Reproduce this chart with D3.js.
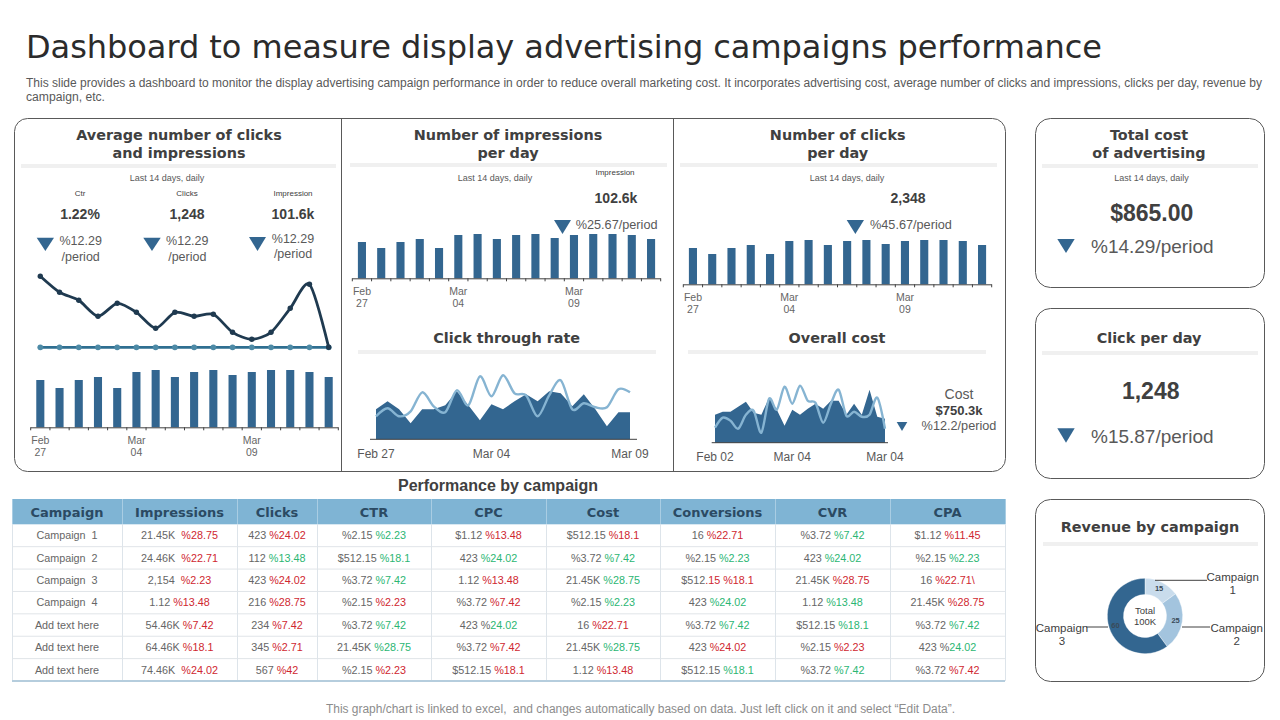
<!DOCTYPE html>
<html><head><meta charset="utf-8">
<script src="https://cdn.jsdelivr.net/npm/d3@7"></script>
<style>html,body{margin:0;padding:0;background:#fff;overflow:hidden}svg{display:block}</style>
</head><body><svg id="c" width="1280" height="720"></svg>
<script>
// ---------- data ----------
const days = ["Feb 27","Feb 28","Mar 01","Mar 02","Mar 03","Mar 04","Mar 05","Mar 06","Mar 07","Mar 08","Mar 09a","Mar 09","Mar 10","Mar 11","Mar 12","Mar 13"];
const tickDays = ["Feb 27","Mar 04","Mar 09"];
const avgLine = [71,55,47,31,44,35,19,35,31,33,15,8,15,39,63,0];
const avgBase = [0,0,0,0,0,0,0,0,0,0,0,0,0,0,0,0];
const avgBars = [47.3,39.3,47.3,50.3,39.3,55.3,57.3,50.3,55.3,57.3,52.3,55.3,57.3,57.3,55.3,50.3];
const impressionBars = [36.3,30.3,36.3,39.3,30.3,43.3,44.3,39.3,43.3,44.3,40.3,43.3,44.3,44.3,43.3,39.3];
const clickBars = [36.3,30.3,36.3,39.3,30.3,43.3,44.3,39.3,43.3,44.3,40.3,43.3,44.3,44.3,43.3,39.3];
const ctrArea = [30,38,30,16,30,30,34,48,34,19,35,30,38,45,38,48,46,33,45,30,13,27,27];
const ctrLine = [23,31,23,28,47,33,27,49,34,63,43,64,46,44,23,44,59,30,36,32,32,50,47];
const ctrTicks = [[0,"Feb 27"],[10,"Mar 04"],[22,"Mar 09"]];
const costArea = [28,31,31,36,41,30,28,45,33,17,33,28,34,39,34,42,42,28,39,28,53,26,24];
const costLine = [15,25,22,14,28,32,10,44,33,56,39,57,42,40,20,39,53,27,31,26,28,45,14];
const costTicks = [[0,"Feb 02"],[10,"Mar 04"],[22,"Mar 04"]];
const revenueNames = ["Campaign 1","Campaign 2","Campaign 3"];
const revenueValues = [15,25,60];
const tableHeaders = ["Campaign","Impressions","Clicks","CTR","CPC","Cost","Conversions","CVR","CPA"];
const campaignNames = ["Campaign  1","Campaign  2","Campaign  3","Campaign  4","Add text here","Add text here","Add text here"];
const impressionsCol = [["21.45K ","%28.75","r"],["24.46K ","%22.71","r"],["2,154 ","%2.23","r"],["1.12","%13.48","r"],["54.46K","%7.42","r"],["64.46K","%18.1","r"],["74.46K ","%24.02","r"]];
const clicksCol = [["423","%24.02","r"],["112","%13.48","g"],["423","%24.02","r"],["216","%28.75","r"],["234","%7.42","r"],["345","%2.71","r"],["567","%42","r"]];
const ctrCol = [["%2.15","%2.23","g"],["$512.15","%18.1","g"],["%3.72","%7.42","g"],["%2.15","%2.23","r"],["%3.72","%7.42","g"],["21.45K","%28.75","g"],["%2.15","%2.23","r"]];
const cpcCol = [["$1.12","%13.48","r"],["423","%24.02","g"],["1.12","%13.48","r"],["%3.72","%7.42","r"],["423 %","24.02","g"],["%3.72","%7.42","r"],["$512.15","%18.1","r"]];
const costCol = [["$512.15","%18.1","r"],["%3.72","%7.42","g"],["21.45K","%28.75","g"],["%2.15","%2.23","g"],["16","%22.71","r"],["21.45K","%28.75","g"],["1.12","%13.48","r"]];
const conversionsCol = [["16","%22.71","r"],["%2.15","%2.23","g"],["$512",".15 %18.1","r"],["423","%24.02","g"],["%3.72","%7.42","g"],["423","%24.02","r"],["$512.15","%18.1","g"]];
const cvrCol = [["%3.72","%7.42","g"],["423","%24.02","g"],["21.45K","%28.75","r"],["1.12","%13.48","g"],["$512.15","%18.1","g"],["%2.15","%2.23","r"],["%3.72","%7.42","g"]];
const cpaCol = [["$1.12","%11.45","r"],["%2.15","%2.23","g"],["16","%22.71\\","r"],["21.45K","%28.75","r"],["%3.72","%7.42","g"],["423 %","24.02","g"],["%3.72","%7.42","r"]];

// ---------- helpers ----------
const BLUE="#336690", LIGHT="#86b4d2", DARK="#1f3a50", TXT="#404040", GREY="#595959";
const ARIAL="'Liberation Sans',Arial,sans-serif", VERD="'DejaVu Sans',Verdana,sans-serif";
const svg=d3.select("#c");
svg.append("rect").attr("width",1280).attr("height",720).attr("fill","#fff");
function T(x,y,s,o={}){
  return svg.append("text").attr("x",x).attr("y",y).attr("dy","0.35em")
   .attr("text-anchor",o.a||"middle").attr("font-family",o.f||ARIAL)
   .attr("font-size",o.s||12).attr("font-weight",o.w||"normal").attr("fill",o.c||GREY)
   .attr("textLength",o.len||null).attr("lengthAdjust",o.adj||null).text(s);
}
const H=(x,y,s,size)=>T(x,y,s,{f:VERD,w:"bold",s:size||14.4,c:TXT});
const rule=(x0,x1,y)=>svg.append("rect").attr("x",x0).attr("y",y).attr("width",x1-x0).attr("height",4).attr("fill","#f0f0f0");
const tri=(x0,x1,y0,y1)=>svg.append("path").attr("d",d3.line()([[x0,y0],[x1,y0],[(x0+x1)/2,y1]])+"Z").attr("fill",BLUE);
const box=(x,y,w,h,r)=>svg.append("rect").attr("x",x).attr("y",y).attr("width",w).attr("height",h).attr("rx",r).attr("fill","none").attr("stroke","#595959").attr("stroke-width",1);

function barChart(values,x0,x1,base,l1,l2){
  const x=d3.scaleBand().domain(days).range([x0,x1]).paddingInner(0.58).paddingOuter(0.29);
  const y=d3.scaleLinear().domain([0,60]).range([base,base-60]);
  svg.append("g").selectAll("rect").data(values).join("rect")
    .attr("x",(d,i)=>x(days[i])).attr("width",x.bandwidth())
    .attr("y",d=>y(d)).attr("height",d=>y(0)-y(d)).attr("fill",BLUE);
  const ax=svg.append("g").attr("transform",`translate(0,${base})`)
    .call(d3.axisBottom(x).tickSize(3).tickFormat("").tickPadding(0));
  ax.select(".domain").attr("stroke","#404040").attr("d",`M${x0},0.5H${x1}`);
  const step=x.step();
  ax.selectAll(".tick line").attr("stroke","#404040").attr("transform",`translate(${-step/2},0)`);
  ax.append("line").attr("x1",x1).attr("x2",x1).attr("y1",0).attr("y2",3).attr("stroke","#404040");
  tickDays.forEach(t=>{
    const cx=x(t)+x.bandwidth()/2, p=t.split(" ");
    T(cx,l1,p[0],{s:10.5,c:"#666"}); T(cx,l2,p[1],{s:10.5,c:"#666"});
  });
  return x;
}
function areaChart(area,line,ticks,x0,x1,base,a0,a1,ly){
  const x=d3.scaleLinear().domain([0,area.length-1]).range([x0,x1]);
  const y=d3.scaleLinear().domain([0,70]).range([base,base-70]);
  svg.append("path").attr("fill",BLUE)
    .attr("d",d3.area().x((d,i)=>x(i)).y0(y(0)).y1(d=>y(d))(area));
  svg.append("path").attr("fill","none").attr("stroke",LIGHT).attr("stroke-width",2.4)
    .attr("d",d3.line().x((d,i)=>x(i)).y(d=>y(d)).curve(d3.curveCardinal.tension(0.1))(line));
  svg.append("line").attr("x1",a0).attr("x2",a1).attr("y1",base).attr("y2",base).attr("stroke","#404040");
  ticks.forEach(t=>T(x(t[0]),ly,t[1],{s:12,c:"#595959"}));
}

// ---------- header ----------
T(26,46.5,"Dashboard to measure display advertising campaigns performance",{a:"start",f:VERD,s:32,c:"#2b2b2b",len:1076,adj:"spacing"});
T(26,83,"This slide provides a dashboard to monitor the display advertising campaign performance in order to reduce overall marketing cost. It incorporates advertising cost, average number of clicks and impressions, clicks per day, revenue by",{a:"start",s:12,len:1236,adj:"spacingAndGlyphs"});
T(26,97,"campaign, etc.",{a:"start",s:12,len:79,adj:"spacingAndGlyphs"});

// ---------- frames ----------
box(14.5,118.5,991,353,13);
svg.append("line").attr("x1",341.5).attr("x2",341.5).attr("y1",118.5).attr("y2",471.5).attr("stroke","#595959");
svg.append("line").attr("x1",673.5).attr("x2",673.5).attr("y1",118.5).attr("y2",471.5).attr("stroke","#595959");
box(1035.5,118.5,229,169,15);
box(1035.5,308.5,229,170,15);
box(1035.5,499.5,229,182,15);

// ---------- panel 1 ----------
H(179,135,"Average number of clicks"); H(179,152.5,"and impressions"); rule(21,336,164);
T(167,178,"Last 14 days, daily",{s:9,c:GREY});
[[80,"Ctr","1.22%"],[187,"Clicks","1,248"],[293,"Impression","101.6k"]].forEach(d=>{
  T(d[0],193,d[1],{s:8,c:"#404040"}); T(d[0],214,d[2],{s:14,w:"bold",c:TXT});
});
tri(36.7,54,237.7,251); T(80.7,241,"%12.29",{s:12.5}); T(80.7,257,"/period",{s:12.5});
tri(143.3,160.7,237.7,251); T(187.3,241,"%12.29",{s:12.5}); T(187.3,257,"/period",{s:12.5});
tri(249,266,237,251); T(293,238.3,"%12.29",{s:12.5}); T(293,254,"/period",{s:12.5});
{
  const x=barChart(avgBars,30.7,338.3,427.3,440,452);
  const y=d3.scaleLinear().domain([0,71]).range([347.3,276.3]);
  const cx=i=>x(days[i])+x.bandwidth()/2;
  const gen=d3.line().x((d,i)=>cx(i)).y(d=>y(d)).curve(d3.curveCardinal.tension(0.25));
  svg.append("path").attr("d",gen(avgBase)).attr("fill","none").attr("stroke","#2f6f91").attr("stroke-width",2.8);
  svg.append("g").selectAll("circle").data(avgBase).join("circle").attr("cx",(d,i)=>cx(i)).attr("cy",d=>y(d)).attr("r",2.9).attr("fill","#4d8aa6");
  svg.append("path").attr("d",gen(avgLine)).attr("fill","none").attr("stroke",DARK).attr("stroke-width",2.8);
  svg.append("g").selectAll("circle").data(avgLine).join("circle").attr("cx",(d,i)=>cx(i)).attr("cy",d=>y(d)).attr("r",2.7).attr("fill",DARK);
}

// ---------- panel 2 ----------
H(508,135,"Number of impressions"); H(508,152.5,"per day"); rule(350,667,163);
T(495,178,"Last 14 days, daily",{s:9,c:GREY});
T(615,172,"Impression",{s:8,c:"#404040"}); T(616,198,"102.6k",{s:14,w:"bold",c:TXT});
tri(554,571,220,234); T(575.7,224.5,"%25.67/period",{a:"start",s:12.7});
barChart(impressionBars,352.3,660.7,278.3,291,303);
H(506.7,338,"Click through rate"); rule(358,656,350);
areaChart(ctrArea,ctrLine,ctrTicks,376,630,439.3,370,637,453.7);

// ---------- panel 3 ----------
H(837.7,135,"Number of clicks"); H(837.7,152.5,"per day"); rule(680,997,163);
T(847,178,"Last 14 days, daily",{s:9,c:GREY});
T(908,198,"2,348",{s:14,w:"bold",c:TXT});
tri(846.7,864,220,234); T(870,224.5,"%45.67/period",{a:"start",s:12.7});
barChart(clickBars,683.3,991.7,284.3,297,309);
H(837,338,"Overall cost"); rule(688,986,350);
areaChart(costArea,costLine,costTicks,715,885,442.7,711.7,888,456.7);
tri(896.7,907.3,422,431);
T(959,394,"Cost",{s:14}); T(959,410,"$750.3k",{s:13,w:"bold",c:TXT}); T(959,425.7,"%12.2/period",{s:12.7});

// ---------- right cards ----------
H(1149,135,"Total cost"); H(1149,152.5,"of advertising"); rule(1042,1258,164);
T(1151.6,178,"Last 14 days, daily",{s:9,c:GREY});
T(1151.7,213,"$865.00",{s:23,w:"bold",c:TXT});
tri(1057.3,1074.7,239,253); T(1091,246.7,"%14.29/period",{a:"start",s:19});
H(1149,338,"Click per day"); rule(1042,1258,351);
T(1150.7,391,"1,248",{s:23,w:"bold",c:TXT});
tri(1057.3,1074.7,428.3,442.7); T(1091,436.7,"%15.87/period",{a:"start",s:19});
H(1150,527,"Revenue by campaign"); rule(1043,1258,542);
{
  const cx=1145, cy=616, pie=d3.pie().sort(null)(revenueValues);
  const arc=d3.arc().innerRadius(21.5).outerRadius(37.7);
  const cols=d3.scaleOrdinal().domain(revenueNames).range(["#c9dcec","#a3c4de",BLUE]);
  const g=svg.append("g").attr("transform",`translate(${cx},${cy})`);
  g.selectAll("path").data(pie).join("path").attr("d",arc).attr("fill",(d,i)=>cols(revenueNames[i])).attr("stroke","#fff").attr("stroke-width",.4);
  const lbl=d3.arc().innerRadius(29).outerRadius(33);
  g.selectAll("text").data(pie).join("text").attr("transform",d=>`translate(${lbl.centroid(d)})`).attr("dy","0.35em")
    .attr("text-anchor","middle").attr("font-family",ARIAL).attr("font-size",7.5).attr("font-weight","bold").attr("fill","#3a4a58").text(d=>d.value);
  T(cx,611,"Total",{s:9.5,c:TXT}); T(cx,622,"100K",{s:9.5,c:TXT});
  [[1155,1207,580.3],[1182,1210,627],[1086,1108,627]].forEach(l=>svg.append("line").attr("x1",l[0]).attr("x2",l[1]).attr("y1",l[2]).attr("y2",l[2]).attr("stroke","#404040"));
  [[1232.7,577],[1236.7,628],[1062,628]].forEach((p,i)=>{
    const s=revenueNames[i].split(" ");
    T(p[0],p[1],s[0],{s:11.5,c:TXT}); T(p[0],p[1]+13,s[1],{s:11.5,c:TXT});
  });
}

// ---------- table ----------
T(498,485,"Performance by campaign",{s:16,w:"bold",c:TXT});
{
  const edges=[12,122,237,317,431,546,660,775,890,1005];
  const cols=[impressionsCol,clicksCol,ctrCol,cpcCol,costCol,conversionsCol,cvrCol,cpaCol];
  const rowY=d3.scaleBand().domain(campaignNames.map((d,i)=>i)).range([524.3,681]);
  const RED="#cf2730", GREEN="#2bb673";
  svg.append("rect").attr("x",12).attr("y",499).attr("width",993).attr("height",25.3).attr("fill","#7fb4d4");
  tableHeaders.forEach((h,i)=>T((edges[i]+edges[i+1])/2,512.5,h,{f:VERD,w:"bold",s:13,c:"#2b4a63"}));
  edges.forEach(e=>svg.append("line").attr("x1",e+.5).attr("x2",e+.5).attr("y1",499).attr("y2",524.3).attr("stroke","#a9cde3"));
  edges.forEach(e=>svg.append("line").attr("x1",e+.5).attr("x2",e+.5).attr("y1",524.3).attr("y2",681).attr("stroke","#dde4ea"));
  campaignNames.forEach((n,r)=>{
    const y=rowY(r), cy=y+rowY.bandwidth()/2;
    svg.append("line").attr("x1",12).attr("x2",1005).attr("y1",y+rowY.bandwidth()).attr("y2",y+rowY.bandwidth())
      .attr("stroke",r==campaignNames.length-1?"#b5cddd":"#e0e4e8").attr("stroke-width",r==campaignNames.length-1?2:1);
    T((edges[0]+edges[1])/2,cy,n,{s:10.8,c:"#666"}).style("white-space","pre");
    cols.forEach((c,j)=>{
      const t=T((edges[j+1]+edges[j+2])/2,cy,"",{s:10.8,c:"#666"}).style("white-space","pre");
      const joined=c[r][0].endsWith("%")||c[r][1].startsWith(".");
      t.append("tspan").text(c[r][0]+(joined?"":" "));
      t.append("tspan").attr("fill",c[r][2]=="r"?RED:GREEN).text(c[r][1]);
    });
  });
}
T(640.5,708.5,"This graph/chart is linked to excel,  and changes automatically based on data. Just left click on it and select “Edit Data”.",{s:12,c:"#8c8c8c",len:629,adj:"spacingAndGlyphs"}).style("white-space","pre");
</script></body></html>
